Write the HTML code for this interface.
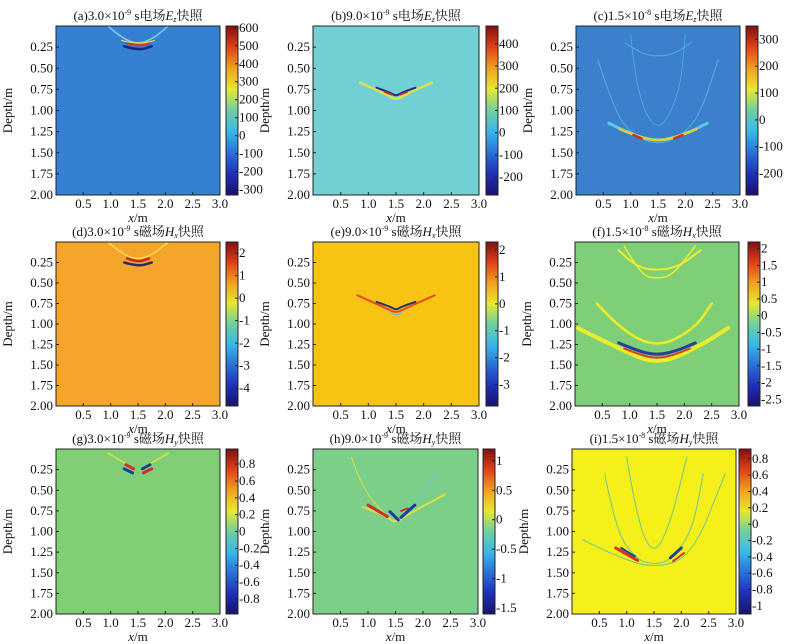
<!DOCTYPE html>
<html><head><meta charset="utf-8">
<style>
html,body{margin:0;padding:0;background:#fff;}
svg{display:block;}
text{font-family:"Liberation Serif","Noto Serif CJK SC","Noto Sans CJK SC",serif;fill:#111;}
</style></head>
<body>
<svg id="fig" width="802" height="644" viewBox="0 0 802 644" xmlns="http://www.w3.org/2000/svg"></svg>
<script>
// ---- data ----
const xTicks = [0.5, 1.0, 1.5, 2.0, 2.5, 3.0];
const xTickLabels = ["0.5","1.0","1.5","2.0","2.5","3.0"];
const yTicks = [0.25, 0.5, 0.75, 1.0, 1.25, 1.5, 1.75, 2.0];
const yTickLabels = ["0.25","0.50","0.75","1.00","1.25","1.50","1.75","2.00"];
const panelIds = ["a","b","c","d","e","f","g","h","i"];
const panelTimes = ["3.0×10","9.0×10","1.5×10","3.0×10","9.0×10","1.5×10","3.0×10","9.0×10","1.5×10"];
const panelExps = ["-9","-9","-8","-9","-9","-8","-9","-9","-8"];
const panelFields = ["电场","电场","电场","磁场","磁场","磁场","磁场","磁场","磁场"];
const panelVars = ["E","E","E","H","H","H","H","H","H"];
const panelSubs = ["z","z","z","x","x","x","y","y","y"];
const cbMin = [-330,-280,-280,-4.8,-3.8,-2.7,-0.98,-1.6,-1.1];
const cbMax = [610,480,350,2.5,2.3,2.2,0.98,1.2,0.92];
const cbTicks = [
 [600,500,400,300,200,100,0,-100,-200,-300],
 [400,300,200,100,0,-100,-200],
 [300,200,100,0,-100,-200],
 [2,1,0,-1,-2,-3,-4],
 [2,1,0,-1,-2,-3],
 [2,1.5,1,0.5,0,-0.5,-1,-1.5,-2,-2.5],
 [0.8,0.6,0.4,0.2,0,-0.2,-0.4,-0.6,-0.8],
 [1,0.5,0,-0.5,-1,-1.5],
 [0.8,0.6,0.4,0.2,0,-0.2,-0.4,-0.6,-0.8,-1]
];
const bgColors = ["#3580d2","#72cfd4","#3a80cc","#f4a52a","#f8c414","#7ecf78","#80cf74","#7ccf88","#f6f01a"];
const features = [
 [0,"#7fd8f0",1.5,[[0.95,0.0],[1.2,0.14],[1.5,0.22],[1.8,0.14],[2.05,0.0]]],
 [0,"#10207a",2.5,[[1.25,0.24],[1.5,0.29],[1.75,0.24]]],
 [0,"#e03020",2.5,[[1.3,0.2],[1.5,0.24],[1.7,0.2]]],
 [0,"#f0e030",1.2,[[1.2,0.17],[1.5,0.22],[1.8,0.17]]],
 [1,"#e8e040",2.5,[[0.85,0.67],[1.3,0.8],[1.5,0.88],[1.7,0.8],[2.15,0.67]]],
 [1,"#10207a",2,[[1.15,0.73],[1.4,0.79],[1.5,0.83],[1.6,0.79],[1.85,0.73]]],
 [1,"#d02020",2,[[1.3,0.78],[1.42,0.81]]],
 [1,"#d02020",2,[[1.58,0.81],[1.7,0.78]]],
 [2,"#5ab0e8",1,[[0.4,0.4],[0.7,1.0],[1.0,1.27],[1.5,1.42],[2.0,1.27],[2.3,1.0],[2.6,0.4]]],
 [2,"#5ab0e8",1,[[0.9,0.2],[1.2,0.33],[1.5,0.36],[1.8,0.33],[2.1,0.2]]],
 [2,"#5ab0e8",0.8,[[1.0,0.1],[1.1,0.8],[1.5,1.3],[1.9,0.8],[2.0,0.1]]],
 [2,"#60d0e8",3,[[0.6,1.15],[1.0,1.28],[1.5,1.37],[2.0,1.28],[2.4,1.15]]],
 [2,"#f0d020",2.5,[[0.8,1.22],[1.1,1.3],[1.5,1.37],[1.9,1.3],[2.2,1.22]]],
 [2,"#d02020",2.5,[[1.05,1.29],[1.2,1.33]]],
 [2,"#d02020",2.5,[[1.8,1.33],[1.95,1.29]]],
 [3,"#f8e060",1.5,[[0.95,0.0],[1.2,0.14],[1.5,0.22],[1.8,0.14],[2.05,0.0]]],
 [3,"#10207a",2.5,[[1.25,0.25],[1.5,0.3],[1.75,0.25]]],
 [3,"#c01818",2.5,[[1.3,0.2],[1.5,0.25],[1.7,0.2]]],
 [4,"#e04020",2,[[0.8,0.65],[1.3,0.8],[1.5,0.87],[1.7,0.8],[2.2,0.65]]],
 [4,"#10207a",2,[[1.15,0.73],[1.4,0.79],[1.5,0.83],[1.6,0.79],[1.85,0.73]]],
 [4,"#60c0e0",1.5,[[1.4,0.86],[1.5,0.9],[1.6,0.86]]],
 [5,"#f8f020",4,[[0.05,1.05],[0.8,1.3],[1.5,1.5],[2.2,1.3],[2.8,1.05]]],
 [5,"#f8f020",2.5,[[0.4,0.75],[0.8,1.05],[1.5,1.3],[2.2,1.05],[2.5,0.75]]],
 [5,"#f8f020",2,[[0.8,0.1],[1.1,0.3],[1.5,0.35],[1.9,0.3],[2.3,0.1]]],
 [5,"#f8f020",1.5,[[0.9,0.05],[1.2,0.4],[1.5,0.45],[1.8,0.4],[2.2,0.05]]],
 [5,"#20309a",3,[[0.8,1.23],[1.15,1.33],[1.5,1.38],[1.85,1.33],[2.2,1.23]]],
 [5,"#e03020",2,[[0.9,1.3],[1.2,1.38],[1.5,1.42],[1.8,1.38],[2.1,1.3]]],
 [6,"#e8e040",1.5,[[0.95,0.05],[1.2,0.15],[1.4,0.22]]],
 [6,"#e8e040",1.5,[[1.6,0.22],[1.8,0.15],[2.05,0.05]]],
 [6,"#d02020",3,[[1.28,0.19],[1.42,0.24]]],
 [6,"#1030a0",3,[[1.25,0.24],[1.4,0.29]]],
 [6,"#1030a0",3,[[1.58,0.24],[1.72,0.19]]],
 [6,"#d02020",3,[[1.6,0.29],[1.75,0.24]]],
 [7,"#e8e040",1,[[0.7,0.1],[0.9,0.5],[1.4,0.85]]],
 [7,"#60c8e8",1,[[2.2,0.3],[2.0,0.6],[1.6,0.85]]],
 [7,"#e8e040",2,[[0.9,0.7],[1.3,0.8],[1.5,0.9],[1.7,0.8],[2.4,0.55]]],
 [7,"#d02020",3,[[1.0,0.68],[1.35,0.82]]],
 [7,"#1030a0",3,[[1.4,0.76],[1.55,0.86]]],
 [7,"#1030a0",3,[[1.6,0.83],[1.85,0.68]]],
 [7,"#d02020",2,[[1.6,0.75],[1.72,0.72]]],
 [8,"#60c0a0",1,[[0.2,1.1],[0.8,1.3],[1.5,1.45],[2.2,1.3],[2.8,0.3]]],
 [8,"#60c0a0",1,[[0.6,0.3],[0.8,1.0],[1.2,1.35],[1.5,1.4],[1.8,1.35],[2.2,1.0],[2.4,0.3]]],
 [8,"#60c0a0",1,[[1.0,0.1],[1.2,0.9],[1.5,1.3],[1.8,0.9],[2.1,0.1]]],
 [8,"#d02020",3,[[0.8,1.2],[1.2,1.35]]],
 [8,"#1030a0",2,[[0.9,1.2],[1.15,1.3]]],
 [8,"#1030a0",3,[[1.8,1.32],[2.0,1.2]]],
 [8,"#d02020",2,[[1.85,1.36],[2.05,1.26]]]
];
// ---- layout ----
const plotL = [56,313,576,56,313,575,56,313,572];
const plotR = [220,479,740,220,479,739,220,478,736];
const plotT = [26,26,26,242,242,242,449,449,449];
const plotB = [195,195,195,406,406,406,614,614,614];
const cbL = [226,486,746,226,486,748,226,483,739];
const cbW = 12;
const jet = ["#1a1270","#1f2fb8","#2a70d8","#38b8e8","#70d0a0","#e8e830","#f0a020","#e04018","#801010"];

const NS="http://www.w3.org/2000/svg";
const svg=document.getElementById('fig');
function mk(tag,attrs,parent){const e=document.createElementNS(NS,tag);for(const k in attrs)e.setAttribute(k,attrs[k]);(parent||svg).appendChild(e);return e;}
const defs=mk('defs',{});
const lg=mk('linearGradient',{id:'jetg',x1:0,y1:1,x2:0,y2:0},defs);
jet.forEach((c,i)=>mk('stop',{offset:(i/(jet.length-1)),'stop-color':c},lg));

function smoothPath(pts){
  if(pts.length<3) return pts.map((p,i)=>(i?'L':'M')+p[0].toFixed(1)+' '+p[1].toFixed(1)).join(' ');
  let d='M'+pts[0][0].toFixed(1)+' '+pts[0][1].toFixed(1);
  for(let i=1;i<pts.length-1;i++){
    const mx=(pts[i][0]+pts[i+1][0])/2,my=(pts[i][1]+pts[i+1][1])/2;
    d+=' Q'+pts[i][0].toFixed(1)+' '+pts[i][1].toFixed(1)+' '+mx.toFixed(1)+' '+my.toFixed(1);
  }
  const l=pts[pts.length-1];
  d+=' L'+l[0].toFixed(1)+' '+l[1].toFixed(1);
  return d;
}

panelIds.forEach((pid,p)=>{
  const g=mk('g',{});
  
  
  const L=plotL[p],R=plotR[p],T=plotT[p],B=plotB[p];
  const sx=v=>L+(v/3)*(R-L);
  const sy=v=>T+(v/2)*(B-T);
  const cp=mk('clipPath',{id:'clip'+p},defs);
  mk('rect',{x:L,y:T,width:R-L,height:B-T},cp);
  const hm=mk('rect',{x:L,y:T,width:R-L,height:B-T,fill:bgColors[p]},g);
  
  
  const fg=mk('g',{'clip-path':'url(#clip'+p+')'},g);
  features.filter(f=>f[0]===p).forEach(f=>{
    const d=smoothPath(f[3].map(pt=>[sx(pt[0]),sy(pt[1])]));
    const path=mk('path',{d:d,fill:'none',stroke:f[1],'stroke-width':f[2],'stroke-linejoin':'round','stroke-linecap':'round',opacity:0.9},fg);
    
    
  });
  mk('rect',{x:L,y:T,width:R-L,height:B-T,fill:'none',stroke:'#222','stroke-width':1},g);
  xTicks.forEach((v,i)=>{
    const x=sx(v);
    mk('line',{x1:x,y1:B,x2:x,y2:B-3,stroke:'#222'},g);
    const t=mk('text',{x:x,y:B+13,'font-size':13,'text-anchor':'middle'},g);t.textContent=xTickLabels[i];
    
    
  });
  yTicks.forEach((v,i)=>{
    const y=sy(v);
    mk('line',{x1:L,y1:y,x2:L+3,y2:y,stroke:'#222'},g);
    const t=mk('text',{x:L-3,y:y+4,'font-size':13,'text-anchor':'end'},g);t.textContent=yTickLabels[i];
    
    
  });
  const xl=mk('text',{x:(L+R)/2,y:B+27,'font-size':13,'text-anchor':'middle'},g);
  xl.innerHTML='<tspan font-style="italic">x</tspan>/m';
  
  
  const yl=mk('text',{x:0,y:0,'font-size':13,'text-anchor':'middle',transform:'translate('+(L-44)+','+((T+B)/2)+') rotate(-90)'},g);
  yl.textContent='Depth/m';
  
  
  const tt=mk('text',{x:(L+R)/2,y:T-6,'font-size':13,'text-anchor':'middle'},g);
  tt.innerHTML='('+pid+')'+panelTimes[p]+'<tspan font-size="8" dy="-5">'+panelExps[p]+'</tspan><tspan dy="5"> s'+panelFields[p]+'</tspan><tspan font-style="italic">'+panelVars[p]+'</tspan><tspan font-style="italic" font-size="8" dy="2">'+panelSubs[p]+'</tspan><tspan dy="-2">快照</tspan>';
  
  
  const cb=mk('rect',{x:cbL[p],y:T,width:cbW,height:B-T,fill:'url(#jetg)',stroke:'#222','stroke-width':1},g);
  
  
  const cy=v=>B-(v-cbMin[p])/(cbMax[p]-cbMin[p])*(B-T);
  cbTicks[p].forEach(v=>{
    const y=cy(v);
    mk('line',{x1:cbL[p]+cbW-3,y1:y,x2:cbL[p]+cbW,y2:y,stroke:'#222'},g);
    const t=mk('text',{x:cbL[p]+cbW+1,y:y+4,'font-size':13},g);t.textContent=String(v);
    
    
  });
});
</script>
</body></html>
